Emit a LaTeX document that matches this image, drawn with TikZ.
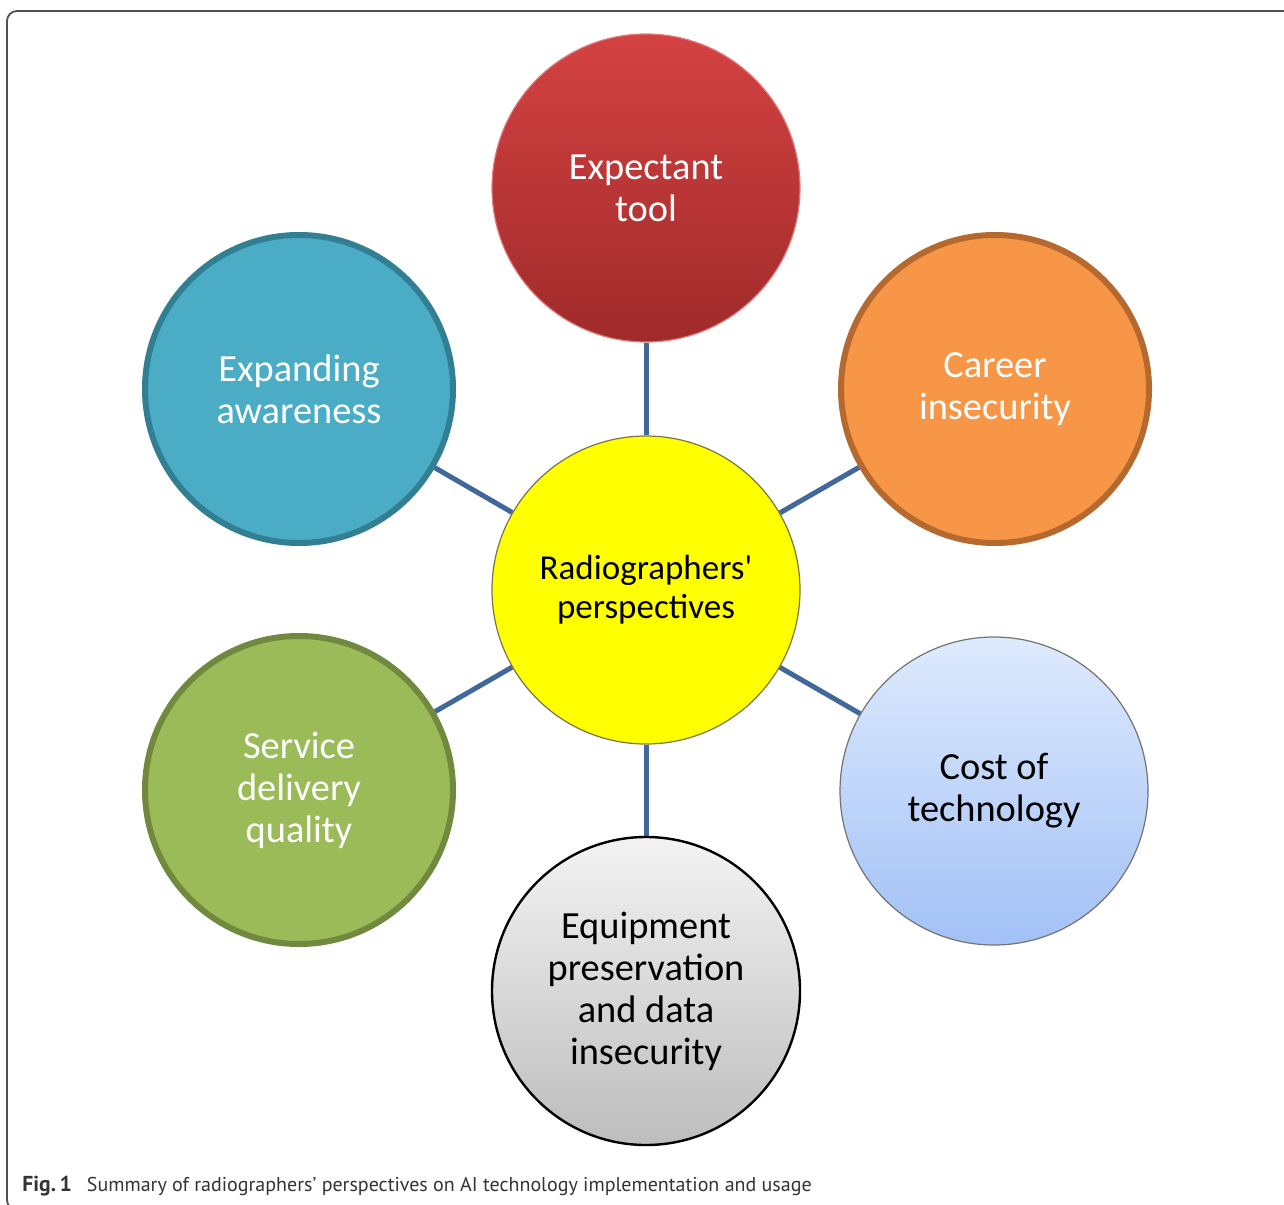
\documentclass[tikz,border=0pt]{standalone}
\usepackage{fontspec}
\setmainfont{Carlito}
\newfontfamily\bubblefont{Carlito}
\newfontfamily\capfont{PT Sans}
\usetikzlibrary{backgrounds}
\definecolor{linkblue}{HTML}{41679B}
\definecolor{redtop}{HTML}{D44242}
\definecolor{redbot}{HTML}{A02A2A}
\definecolor{orfill}{HTML}{F79646}
\definecolor{ordraw}{HTML}{B5692F}
\definecolor{tlfill}{HTML}{4BACC6}
\definecolor{tldraw}{HTML}{327F94}
\definecolor{grfill}{HTML}{9BBB59}
\definecolor{grdraw}{HTML}{71893F}
\definecolor{bltop}{HTML}{DEEAFD}
\definecolor{blbot}{HTML}{A2C1F6}
\definecolor{gytop}{HTML}{F3F3F3}
\definecolor{gybot}{HTML}{BDBDBD}
\definecolor{pureyellow}{HTML}{FFFF00}
\definecolor{framegray}{HTML}{505050}
\definecolor{captext}{HTML}{333333}
\tikzset{
  bubble/.style={circle, minimum size=308pt*0.5, inner sep=0pt, align=center,
    font=\bubblefont\fontsize{19.2}{21}\selectfont},
  link/.style={draw=linkblue, line width=2.5pt}
}
\begin{document}
\begin{tikzpicture}[x=0.5pt,y=-0.5pt]
\useasboundingbox (0,0) rectangle (1284,1204);
% frame
\draw[framegray, line width=0.9pt, rounded corners=5pt] (1300,11) -- (7,11) -- (7,1210) -- (40,1210);
% nodes
\node[bubble, top color=redtop, bottom color=redbot, draw=redtop!70!white, line width=0.6pt, text=white] (top) at (646,188) {Expectant\\tool};
\node[bubble, fill=orfill, draw=ordraw, line width=3pt, text=white] (career) at (995,389) {Career\\insecurity};
\node[bubble, fill=tlfill, draw=tldraw, line width=3pt, text=white] (aware) at (299,389) {Expanding\\awareness};
\node[bubble, fill=pureyellow, draw=black!60!yellow, line width=0.6pt, text=black, font=\bubblefont\fontsize{17.5}{19.5}\selectfont] (center) at (646,590) {Radiographers'\\perspectives};
\node[bubble, fill=grfill, draw=grdraw, line width=3pt, text=white] (service) at (299,790) {Service\\delivery\\quality};
\node[bubble, top color=bltop, bottom color=blbot, draw=black!55, line width=0.6pt, text=black] (cost) at (994,791) {Cost of\\technology};
\node[bubble, top color=gytop, bottom color=gybot, draw=black, line width=1.2pt, text=black] (equip) at (646,991) {Equipment\\preservation\\and data\\insecurity};
% links
\begin{pgfonlayer}{background}
\draw[link] (center) -- (top);
\draw[link] (center) -- (career);
\draw[link] (center) -- (aware);
\draw[link] (center) -- (service);
\draw[link] (center) -- (cost);
\draw[link] (center) -- (equip);
\end{pgfonlayer}
% caption
\node[anchor=base west, inner sep=0pt, text=captext, font=\capfont\fontsize{10}{12}\selectfont] (cap) at (22,1191) {{\fontsize{10.8}{12}\selectfont\textbf{Fig.\,1}}\hspace{0.75em}Summary of radiographers’ perspectives on AI technology implementation and usage};
\end{tikzpicture}
\end{document}
